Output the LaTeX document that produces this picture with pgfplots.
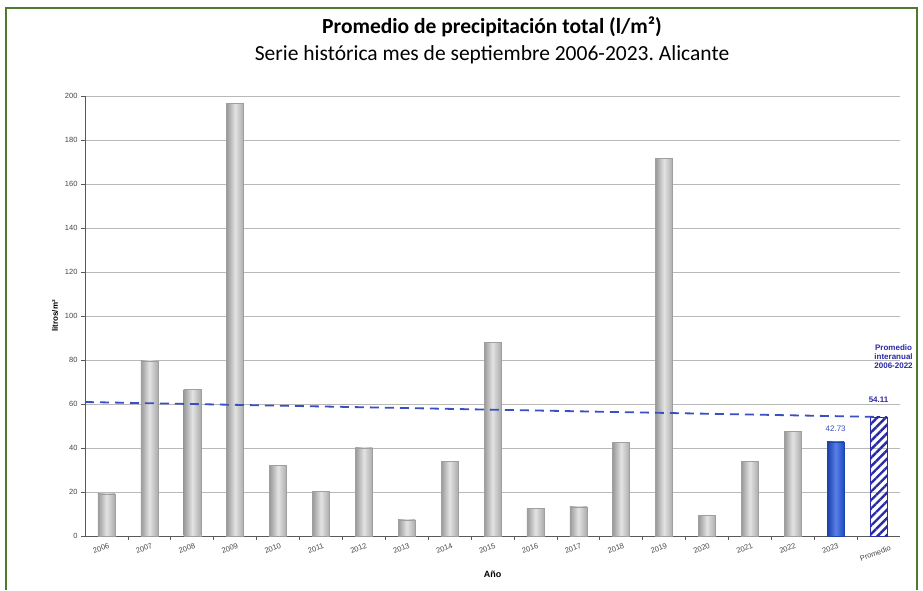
\documentclass[border=0pt]{standalone}
\usepackage{pgfplots}
\pgfplotsset{compat=1.18}
\usepackage{fontspec}
\setmainfont{Liberation Sans}
\newfontfamily\carlito{Carlito}
\usetikzlibrary{patterns.meta}
\frenchspacing

\definecolor{frameGreen}{HTML}{4F7A2C}
\definecolor{barBlue}{HTML}{2255E0}
\definecolor{lineBlue}{HTML}{3A4FC0}
\definecolor{navy}{HTML}{2A2AA8}

\pgfplotsset{
    gbar/.style={ybar, bar width=17pt, bar shift=0pt, draw=gray!75,
        left color=gray!80, right color=gray!65, middle color=gray!22},
}

\begin{document}
\begin{tikzpicture}[x=1pt,y=1pt]
% page and frame
\path[fill=white] (0,0) rectangle (923,588);
\draw[frameGreen, line width=1.2pt] (6,-2) -- (6,580) -- (917,580) -- (917,-2);

% titles
\node[font={\carlito\bfseries\fontsize{21.5}{24}\selectfont}] at (492,561) {Promedio de precipitación total (l/m²)};
\node[font={\carlito\fontsize{21.5}{24}\selectfont}] at (492,533) {Serie histórica mes de septiembre 2006-2023. Alicante};

\begin{axis}[
    at={(85pt,52pt)}, anchor=south west,
    scale only axis,
    width=815pt, height=440pt,
    xmin=-0.5, xmax=18.5,
    ymin=0, ymax=200,
    ytick distance=20,
    xtick={0,...,17},
    xticklabels={2006,2007,2008,2009,2010,2011,2012,2013,2014,2015,2016,2017,2018,2019,2020,2021,2022,2023},
    extra x ticks={18},
    extra x tick labels={Promedio},
    extra x tick style={xticklabel style={yshift=-5pt, xshift=8pt}},
    minor xtick={0.5,1.5,...,17.5},
    axis lines*=left,
    axis line style={gray!70!black, line width=0.8pt},
    tick align=outside,
    tick style={gray!70!black, line width=0.6pt},
    major tick length=4pt,
    minor tick length=4pt,
    x tick style={draw=none},
    minor x tick style={draw=gray!70!black},
    ymajorgrids=true,
    grid style={gray!55, line width=0.8pt},
    tick label style={font=\fontsize{7.5}{9}\selectfont, text=gray!55!black},
    /pgf/number format/assume math mode=true,
    xticklabel style={rotate=20, anchor=north east, xshift=4pt},
    ylabel={litros/m²},
    ylabel style={font=\bfseries\fontsize{8}{9}\selectfont},
    xlabel={Año},
    xlabel style={font=\bfseries\fontsize{9}{10}\selectfont, yshift=2pt},
    clip=false,
]
% historical series, one bar per year
\addplot[gbar] coordinates {(0,19.2)};
\addplot[gbar] coordinates {(1,79.6)};
\addplot[gbar] coordinates {(2,66.8)};
\addplot[gbar] coordinates {(3,196.5)};
\addplot[gbar] coordinates {(4,32.2)};
\addplot[gbar] coordinates {(5,20.2)};
\addplot[gbar] coordinates {(6,40.1)};
\addplot[gbar] coordinates {(7,7.4)};
\addplot[gbar] coordinates {(8,33.8)};
\addplot[gbar] coordinates {(9,88.0)};
\addplot[gbar] coordinates {(10,12.7)};
\addplot[gbar] coordinates {(11,13.2)};
\addplot[gbar] coordinates {(12,42.6)};
\addplot[gbar] coordinates {(13,171.5)};
\addplot[gbar] coordinates {(14,9.3)};
\addplot[gbar] coordinates {(15,34.0)};
\addplot[gbar] coordinates {(16,47.5)};
% 2023
\addplot[ybar, bar width=17pt, bar shift=0pt, draw=barBlue!80!black,
    left color=barBlue!75!black, right color=barBlue!85!black, middle color=barBlue!75]
coordinates {(17,42.73)};
% average
\addplot[ybar, bar width=17pt, bar shift=0pt, draw=navy, line width=0.8pt,
    pattern={Lines[angle=45, distance=6pt, line width=2.4pt]}, pattern color=navy]
coordinates {(18,54.11)};
% trend line
\addplot[sharp plot, lineBlue, line width=1.8pt, dash pattern=on 9pt off 6pt]
coordinates {(-0.5,60.9) (18,54.11)};

\node[text=lineBlue, font=\fontsize{8}{9}\selectfont] at (axis cs:17,48.6) {42.73};
\node[text=navy, font=\bfseries\fontsize{8}{9}\selectfont] at (axis cs:18,61.8) {54.11};
\node[text=navy, font=\bfseries\fontsize{8}{9}\selectfont, align=center] at (axis cs:18.35,81.5) {Promedio\\interanual\\2006-2022};
\end{axis}
\end{tikzpicture}
\end{document}
